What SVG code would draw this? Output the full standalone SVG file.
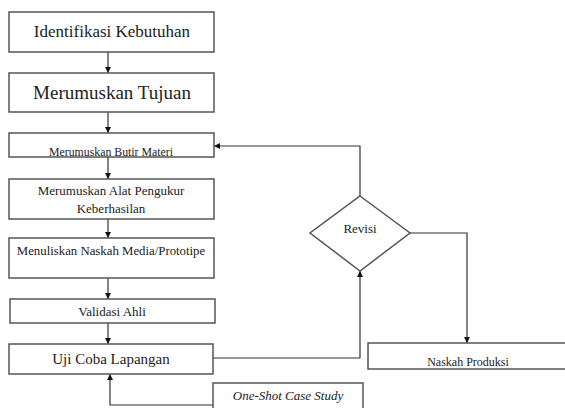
<svg xmlns="http://www.w3.org/2000/svg" width="565" height="408" viewBox="0 0 565 408">
<style>
.b{fill:#fff;stroke:#555;stroke-width:1.5}
.c{fill:none;stroke:#333;stroke-width:1.2}
text{fill:#222;text-anchor:middle}
</style>
<defs>
<marker id="a" viewBox="0 0 10 10" refX="10" refY="5" markerWidth="6" markerHeight="6" orient="auto-start-reverse" markerUnits="userSpaceOnUse">
<path d="M0,0 L10,5 L0,10 z" fill="#111"/>
</marker>
</defs>
<rect width="565" height="408" fill="#fff"/>
<g id="connectors">
<line class="c" x1="108" y1="52" x2="108" y2="73" marker-end="url(#a)"/>
<line class="c" x1="108" y1="112" x2="108" y2="133" marker-end="url(#a)"/>
<line class="c" x1="108" y1="157" x2="108" y2="179" marker-end="url(#a)"/>
<line class="c" x1="108" y1="219" x2="108" y2="238" marker-end="url(#a)"/>
<line class="c" x1="108" y1="278" x2="108" y2="299" marker-end="url(#a)"/>
<line class="c" x1="108" y1="323" x2="108" y2="344" marker-end="url(#a)"/>
<polyline class="c" points="360,196 360,146 214,146" marker-end="url(#a)"/>
<polyline class="c" points="213,358 360,358 360,271" marker-end="url(#a)"/>
<polyline class="c" points="410,233 467,233 467,343" marker-end="url(#a)"/>
<polyline class="c" points="213,405 110,405 110,374" marker-end="url(#a)"/>
</g>
<g font-family="'Liberation Serif', 'DejaVu Serif', serif">
<g id="n1"><rect class="b" x="9" y="12" width="205" height="40"/><text x="112" y="37" font-size="17">Identifikasi  Kebutuhan</text></g>
<g id="n2"><rect class="b" x="9" y="73" width="205" height="39"/><text x="112" y="99" font-size="19">Merumuskan Tujuan</text></g>
<g id="n3"><rect class="b" x="9" y="133" width="205" height="24"/><text x="111" y="156" font-size="11.8">Merumuskan Butir  Materi</text></g>
<g id="n4"><rect class="b" x="9" y="179" width="205" height="40"/><text x="111" y="195" font-size="13">Merumuskan Alat Pengukur</text><text x="111" y="213" font-size="13">Keberhasilan</text></g>
<g id="n5"><rect class="b" x="9" y="238" width="205" height="40"/><text x="111" y="255" font-size="12.8">Menuliskan Naskah Media/Prototipe</text></g>
<g id="n6"><rect class="b" x="10" y="299" width="205" height="24"/><text x="112" y="316" font-size="13">Validasi Ahli</text></g>
<g id="n7"><rect class="b" x="9" y="344" width="204" height="30"/><text x="111" y="364" font-size="15">Uji Coba Lapangan</text></g>
<g id="n8"><rect class="b" x="213" y="383" width="150" height="40"/><text x="288" y="400" font-size="13" font-style="italic">One-Shot Case Study</text></g>
<g id="n9"><polygon class="b" points="360,196 410,233 360,271 310,233"/><text x="360" y="233" font-size="13">Revisi</text></g>
<g id="n10"><rect class="b" x="368" y="343" width="200" height="26"/><text x="468" y="366" font-size="12">Naskah Produksi</text></g>
</g>
</svg>
